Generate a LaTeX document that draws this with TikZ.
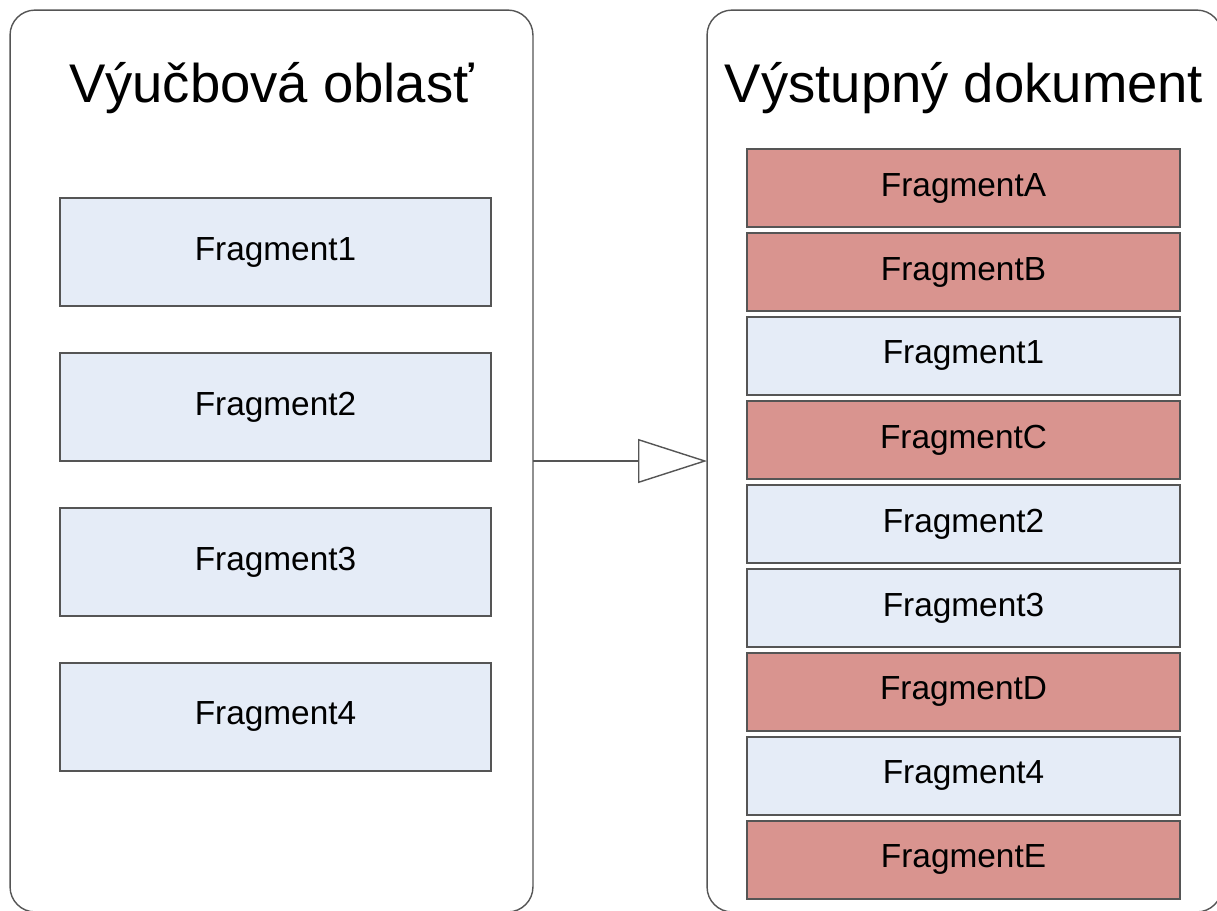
\documentclass[tikz,border=0pt]{standalone}
\usepackage{fontspec}
\setmainfont{Liberation Sans}
\usetikzlibrary{positioning,arrows.meta}
\definecolor{fragblue}{RGB}{229,236,247}
\definecolor{fragred}{RGB}{217,148,143}
\definecolor{edgegray}{RGB}{85,85,85}
\tikzset{
  area/.style={draw=edgegray,line width=0.8pt,rounded corners=0.5cm,minimum width=#1,minimum height=18.04cm,inner sep=0pt,outer sep=0pt},
  areatitle/.style={font=\fontsize{31}{36}\selectfont,anchor=base},
  frag/.style={draw=edgegray,line width=0.8pt,font=\fontsize{19}{23}\selectfont,inner sep=0pt,outer sep=0pt},
  learnfrag/.style={frag,fill=fragblue,minimum width=8.62cm,minimum height=2.16cm},
  docblue/.style={frag,fill=fragblue,minimum width=8.66cm,minimum height=1.56cm},
  docred/.style={frag,fill=fragred,minimum width=8.66cm,minimum height=1.56cm},
  flow/.style={draw=edgegray,line width=0.8pt,-{Triangle[open,length=1.38cm,width=0.88cm,fill=white]}}
}
\begin{document}
\begin{tikzpicture}[x=0.02cm,y=-0.02cm]
\useasboundingbox (0,0) rectangle (1217,910);
\clip (0,0) rectangle (1217,910);
\node[area=10.46cm] (learn) at (271.5,461) {};
\node[area=10.3cm] (doc) at (964.5,461) {};
\node[areatitle] (learntitle) at (271.5,102) {Výučbová oblasť};
\node[areatitle] (doctitle) at (964,102) {Výstupný dokument};
\node[learnfrag] (l1) at (275.5,252) {Fragment1};
\node[learnfrag,below=0.94cm of l1] (l2) {Fragment2};
\node[learnfrag,below=0.94cm of l2] (l3) {Fragment3};
\node[learnfrag,below=0.94cm of l3] (l4) {Fragment4};
\node[docred] (dA) at (963.5,188) {FragmentA};
\node[docred,below=0.12cm of dA] (dB) {FragmentB};
\node[docblue,below=0.12cm of dB] (d1) {Fragment1};
\node[docred,below=0.12cm of d1] (dC) {FragmentC};
\node[docblue,below=0.12cm of dC] (d2) {Fragment2};
\node[docblue,below=0.12cm of d2] (d3) {Fragment3};
\node[docred,below=0.12cm of d3] (dD) {FragmentD};
\node[docblue,below=0.12cm of dD] (d4) {Fragment4};
\node[docred,below=0.12cm of d4] (dE) {FragmentE};
\draw[flow] (learn.east) -- (doc.west);
\end{tikzpicture}
\end{document}
